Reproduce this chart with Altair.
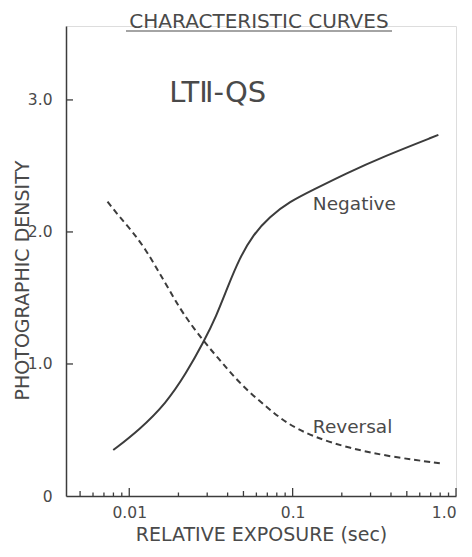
import altair as alt
import pandas as pd

# Data
neg_x = [0.00798, 0.0115, 0.0168, 0.0223, 0.0286, 0.0340, 0.0401, 0.0473, 0.0571, 0.0723,
         0.0959, 0.133, 0.213, 0.358, 0.780]
neg_y = [0.348, 0.50, 0.702, 0.929, 1.169, 1.358, 1.586, 1.80, 1.977, 2.116,
         2.23, 2.318, 2.444, 2.57, 2.735]
rev_x = [0.00736, 0.00869, 0.01047, 0.01265, 0.01492, 0.01758, 0.02122, 0.0286, 0.0373, 0.0495,
         0.0690, 0.0914, 0.133, 0.224, 0.394, 0.798]
rev_y = [2.23, 2.116, 2.003, 1.864, 1.712, 1.561, 1.384, 1.169, 1.005, 0.828,
         0.677, 0.551, 0.449, 0.361, 0.298, 0.248]

x_major = [0.01, 0.1, 1.0]
x_mid = [0.005, 0.05, 0.5]
x_minor = [0.006, 0.007, 0.008, 0.009, 0.02, 0.03, 0.04, 0.06, 0.07, 0.08, 0.09,
           0.2, 0.3, 0.4, 0.6, 0.7, 0.8, 0.9]
y_ticks = [1.0, 2.0, 3.0]
y_labels = [0, 1, 2, 3]

FONT = "DejaVu Sans"
INK = "#3c3c3c"
TXT = "#4a4a4a"
W, H = 390, 470

xs = alt.Scale(type="log", domain=[0.0041, 1.0], nice=False)
ys = alt.Scale(domain=[0, 3.56], nice=False, zero=False)

neg = pd.DataFrame({"x": neg_x, "y": neg_y})
rev = pd.DataFrame({"x": rev_x, "y": rev_y})

xaxis = alt.Axis(values=x_major, labelExpr="datum.value == 1 ? '1.0' : (datum.value == 0.1 ? '0.1' : '0.01')",
                 ticks=False, grid=False, domainColor=INK, domainWidth=1.5,
                 labelFont=FONT, labelFontSize=15.5, labelColor=TXT, labelPadding=9,
                 title="RELATIVE EXPOSURE (sec)", titleFont=FONT, titleFontSize=19,
                 titleFontWeight="normal", titleColor=TXT, titlePadding=5)
yaxis = alt.Axis(values=y_labels, labelExpr="datum.value == 0 ? '0' : format(datum.value, '.1f')",
                 ticks=False, grid=False, domainColor=INK, domainWidth=1.5,
                 labelFont=FONT, labelFontSize=15.5, labelColor=TXT, labelPadding=14,
                 title="PHOTOGRAPHIC DENSITY", titleFont=FONT, titleFontSize=19,
                 titleFontWeight="normal", titleColor=TXT, titleY=254, titleX=-44,
                 titleAlign="center", titleBaseline="middle")

line_neg = alt.Chart(neg).mark_line(color=INK, strokeWidth=2, interpolate="basis").encode(
    x=alt.X("x:Q", scale=xs, axis=xaxis), y=alt.Y("y:Q", scale=ys, axis=yaxis))
line_rev = alt.Chart(rev).mark_line(color=INK, strokeWidth=2, strokeDash=[6, 4], interpolate="basis").encode(
    x=alt.X("x:Q", scale=xs), y=alt.Y("y:Q", scale=ys))

def xticks(vals, length):
    return alt.Chart(pd.DataFrame({"x": vals})).mark_rule(color=INK, strokeWidth=1.3).encode(
        x=alt.X("x:Q", scale=xs), y=alt.value(H), y2=alt.value(H - length))

yt = alt.Chart(pd.DataFrame({"y": y_ticks})).mark_rule(color=INK, strokeWidth=1.3).encode(
    y=alt.Y("y:Q", scale=ys), x=alt.value(0), x2=alt.value(7))

ann = pd.DataFrame({"x": [0.133, 0.133, 0.01758], "y": [2.167, 0.475, 2.985],
                    "t": ["Negative", "Reversal", "LTⅡ-QS"], "s": [18.5, 18.5, 29]})
labels = alt.Chart(ann).mark_text(align="left", baseline="alphabetic", font=FONT, color=TXT).encode(
    x=alt.X("x:Q", scale=xs), y=alt.Y("y:Q", scale=ys), text="t:N",
    size=alt.Size("s:Q", scale=None, legend=None))

title = alt.Chart(pd.DataFrame({"t": ["CHARACTERISTIC CURVES"]})).mark_text(
    font=FONT, fontSize=20, color=TXT, align="center", baseline="alphabetic").encode(
    x=alt.value(193), y=alt.value(2), text="t:N")
underline = alt.Chart(pd.DataFrame({"t": [0]})).mark_rule(color=TXT, strokeWidth=1.2).encode(
    x=alt.value(60), x2=alt.value(326), y=alt.value(5))

chart = alt.layer(
    line_neg, line_rev, xticks(x_major, 8), xticks(x_mid, 5), xticks(x_minor, 3.5), yt,
    labels, title, underline
).properties(
    width=W, height=H, autosize=alt.AutoSizeParams(type="none"),
    padding={"left": 66, "top": 26, "right": 16, "bottom": 61}
).configure_view(stroke=None).configure(background="white")

chart.save("out.html", embed_options={"renderer": "svg", "actions": False})
